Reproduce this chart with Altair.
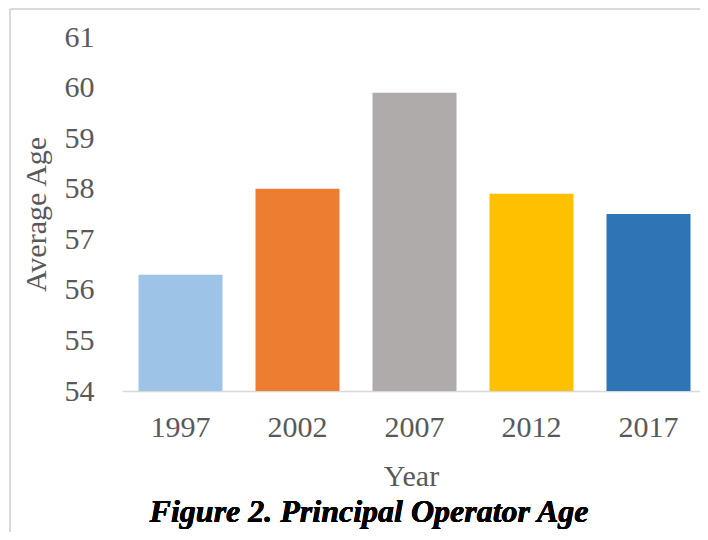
import altair as alt
import pandas as pd

years = ["1997", "2002", "2007", "2012", "2017"]
ages = [56.3, 58.0, 59.9, 57.9, 57.5]
colors = ["#9DC3E6", "#ED7D31", "#AFABAB", "#FFC000", "#2E75B6"]
figure_title = "Figure 2. Principal Operator Age"

df = pd.DataFrame({"Year": years, "Age": ages})

FONT = "Liberation Serif"

bars = alt.Chart(df).mark_bar(clip=True).encode(
    x=alt.X("Year:N", sort=years,
            scale=alt.Scale(paddingInner=0.282, paddingOuter=0.111, align=0.635),
            axis=alt.Axis(title="Year", labelAngle=0, ticks=False,
                          domainColor="#d9d9d9", domainWidth=1.5,
                          labelPadding=21, titlePadding=19)),
    y=alt.Y("Age:Q", scale=alt.Scale(domain=[54, 61], nice=False, zero=False),
            axis=alt.Axis(title="Average Age", values=[54, 55, 56, 57, 58, 59, 60, 61],
                          grid=False, domain=False, ticks=False,
                          labelPadding=28, titlePadding=13)),
    color=alt.Color("Year:N", scale=alt.Scale(domain=years, range=colors), legend=None),
)

border_left = alt.Chart(df).mark_rule(color="#d9d9d9", strokeWidth=1.5).encode(
    x=alt.value(-112), y=alt.value(-28), y2=alt.value(520)
)
border_top = alt.Chart(df).mark_rule(color="#d9d9d9", strokeWidth=1.5).encode(
    x=alt.value(-112), x2=alt.value(600), y=alt.value(-28)
)

title_text = alt.Chart(df).mark_text(
    text=figure_title, font=FONT, fontSize=32, fontWeight="bold",
    fontStyle="italic", color="#000000", align="center", baseline="alphabetic"
).encode(x=alt.value(247), y=alt.value(485))

chart = alt.layer(border_left, border_top, bars, title_text).properties(
    width=578, height=354,
    autosize=alt.AutoSizeParams(type="none"),
    padding={"left": 114, "top": 29, "right": 0, "bottom": 141},
).configure_view(stroke=None).configure_axis(
    labelFont=FONT, titleFont=FONT, labelFontSize=30, titleFontSize=30,
    labelColor="#595959", titleColor="#595959", titleFontWeight="normal",
)

chart.save("out.html", embed_options={"renderer": "svg", "actions": False})
